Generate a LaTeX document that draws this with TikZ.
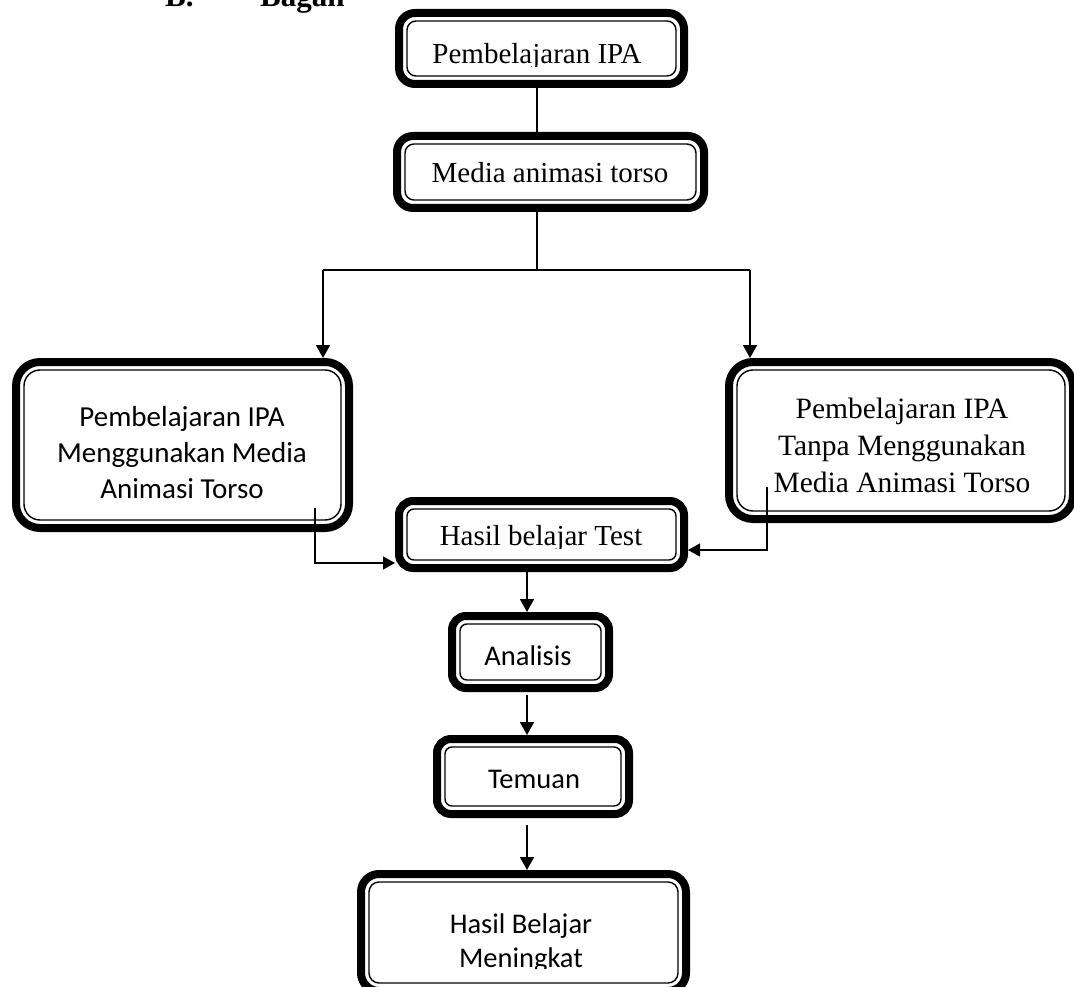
\documentclass[tikz,border=0pt]{standalone}
\usepackage{fontspec}
\setmainfont{Liberation Serif}
\newfontfamily\calibri{Carlito}
\usetikzlibrary{arrows.meta}
\tikzset{
  obox/.style={draw, line width=8pt, inner sep=0pt, outer sep=4pt, fill=white},
  ibox/.style={draw, line width=1.4pt},
  conn/.style={line width=1.3pt},
  sarr/.style={line width=1.3pt, -{Triangle[length=12pt,width=13pt]}},
  arr/.style={line width=1.7pt, -{Triangle[length=13pt,width=14pt]}},
  tm/.style={font=\fontsize{29}{35}\selectfont, inner sep=0pt},
  tmb/.style={font=\fontsize{29.5}{37}\selectfont, inner sep=0pt},
  cal/.style={font=\calibri\fontsize{28.5}{34}\selectfont, inner sep=0pt},
  calb/.style={font=\calibri\fontsize{29}{36}\selectfont, inner sep=0pt},
  head/.style={font=\bfseries\fontsize{31}{36}\selectfont, inner sep=0pt, anchor=base west},
}
\newcommand\dblbox[7]{%
  \node[obox, rounded corners=#6pt, minimum width={(#4-8)*1pt}, minimum height={(#5-8)*1pt}] (#1) at (#2,#3) {};
  \draw[ibox, rounded corners=#7pt] ([shift={(12pt,-12pt)}]#1.north west) rectangle ([shift={(-12pt,12pt)}]#1.south east);
}
\begin{document}
\begin{tikzpicture}[x=1pt,y=-1pt]
\clip (0,0) rectangle (1074,987);
\fill[white] (0,0) rectangle (1074,987);

% heading
\node[head] (hb) at (165,7) {B.};
\node[head] (hbagan) at (260,7) {Bagan};

% boxes
\dblbox{b1}{541.5}{48.5}{293}{79}{16}{9}
\dblbox{b2}{550.5}{172}{315}{80}{16}{9}
\dblbox{L}{182.5}{445}{341}{174}{24}{16}
\dblbox{R}{901}{440.5}{352}{165}{24}{16}
\dblbox{H}{541.5}{534.5}{293}{75}{14}{7}
\dblbox{A}{530.5}{652}{165}{80}{14}{7}
\dblbox{T}{533}{776.5}{200}{83}{14}{7}
\dblbox{M}{523.5}{932.5}{333}{125}{18}{10}

% texts
\begin{scope}
  \clip (400,20) rectangle (680,67);
  \node[tm, anchor=base] (t1) at (537,64) {Pembelajaran IPA};
\end{scope}
\node[tm, anchor=base] (t2) at (550,183) {Media animasi torso};
\node[calb, align=center, anchor=base] (tL) at (182,498) {Pembelajaran IPA\\Menggunakan Media\\Animasi Torso};
\node[tmb, align=center, anchor=base] (tR) at (902,492) {Pembelajaran IPA\\Tanpa Menggunakan\\Media Animasi Torso};
\begin{scope}
  \clip (400,505) rectangle (680,548);
  \node[tm, anchor=base] (tH) at (541,545) {Hasil belajar Test};
\end{scope}
\node[cal, anchor=base] (tA) at (528,665) {Analisis};
\node[cal, anchor=base] (tT) at (534,788) {Temuan};
\begin{scope}
  \clip (370,880) rectangle (680,968);
  \node[cal, align=center, anchor=base] (tM) at (521,967) {Hasil Belajar\\Meningkat};
\end{scope}

% connectors
\coordinate (j) at (537,270);
\coordinate (jl) at (323,270);
\coordinate (jr) at (750,270);
\coordinate (ax) at (527,0);
\coordinate (Lo) at (315,508);
\coordinate (Ro) at (767,487);
\draw[conn] (b1.south -| j) -- (b2.north -| j);
\draw[conn] (b2.south -| j) -- (j);
\draw[conn] (jl) -- (jr);
\draw[arr] (jl) -- (jl |- L.north);
\draw[arr] (jr) -- (jr |- R.north);
\draw[sarr] (Lo) |- ([yshift=9pt]H.south west);
\draw[sarr] (Ro) |- ([yshift=22pt]H.south east);
\draw[arr] (H.south -| ax) -- (A.north -| ax);
\draw[arr, shorten <=3pt] (A.south -| ax) -- (T.north -| ax);
\draw[arr, shorten <=7pt] (T.south -| ax) -- (M.north -| ax);
\end{tikzpicture}
\end{document}
